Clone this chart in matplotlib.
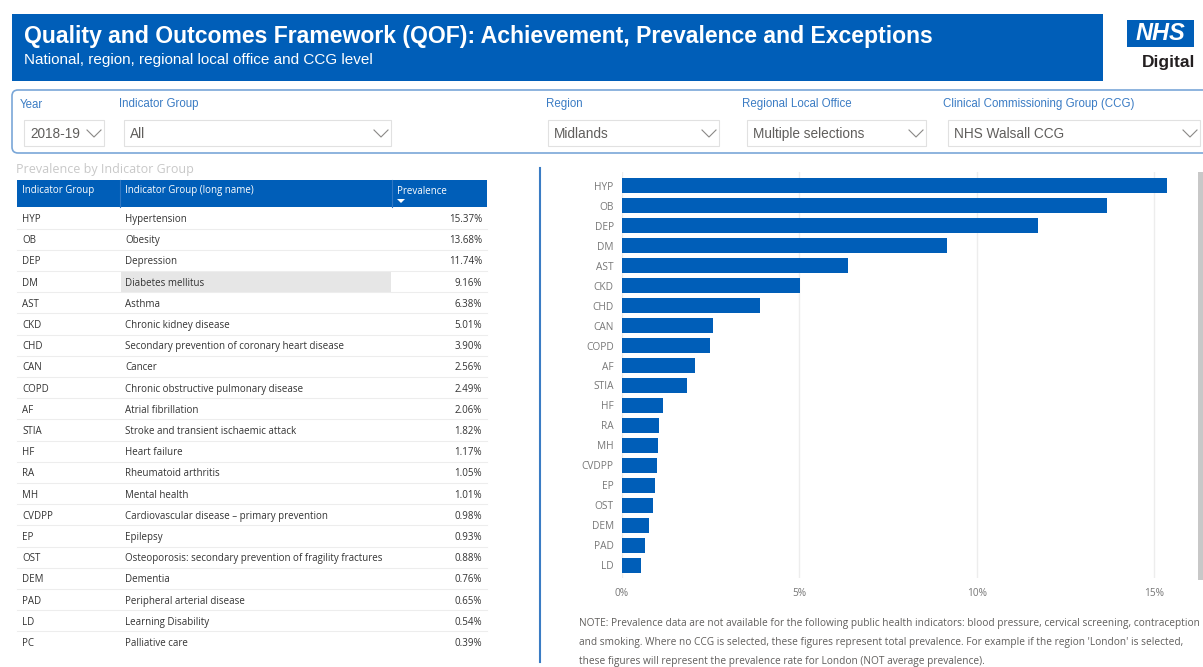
import matplotlib
matplotlib.use("Agg")
import matplotlib.pyplot as plt
from matplotlib.patches import Rectangle, FancyBboxPatch, Polygon
from matplotlib.ticker import FuncFormatter

# ---------------- data ----------------
codes = ["HYP", "OB", "DEP", "DM", "AST", "CKD", "CHD", "CAN", "COPD", "AF", "STIA",
         "HF", "RA", "MH", "CVDPP", "EP", "OST", "DEM", "PAD", "LD", "PC"]
long_names = ["Hypertension", "Obesity", "Depression", "Diabetes mellitus", "Asthma",
              "Chronic kidney disease", "Secondary prevention of coronary heart disease",
              "Cancer", "Chronic obstructive pulmonary disease", "Atrial fibrillation",
              "Stroke and transient ischaemic attack", "Heart failure", "Rheumatoid arthritis",
              "Mental health", "Cardiovascular disease \u2013 primary prevention", "Epilepsy",
              "Osteoporosis: secondary prevention of fragility fractures", "Dementia",
              "Peripheral arterial disease", "Learning Disability", "Palliative care"]
prevalence = [15.37, 13.68, 11.74, 9.16, 6.38, 5.01, 3.90, 2.56, 2.49, 2.06, 1.82,
              1.17, 1.05, 1.01, 0.98, 0.93, 0.88, 0.76, 0.65, 0.54, 0.39]
x_ticks = [0, 5, 10, 15]

filter_labels = ["Year", "Indicator Group", "Region", "Regional Local Office",
                 "Clinical Commissioning Group (CCG)"]
filter_values = ["2018-19", "All", "Midlands", "Multiple selections", "NHS Walsall CCG"]

title = "Quality and Outcomes Framework (QOF): Achievement, Prevalence and Exceptions"
subtitle = "National, region, regional local office and CCG level"
note_lines = [
    "NOTE: Prevalence data are not available for the following public health indicators: blood pressure, cervical screening, contraception",
    "and smoking. Where no CCG is selected, these figures represent total prevalence. For example if the region 'London' is selected,",
    "these figures will represent the prevalence rate for London (NOT average prevalence).",
]

# ---------------- style ----------------
W, H = 1203, 667
BLUE = "#005EB8"
LBLUE = "#3B7CC4"
GREY_TXT = "#605E5C"
DARK_TXT = "#333333"
FONT = "Open Sans"
plt.rcParams["font.family"] = [FONT, "DejaVu Sans"]
TFS = 7.0

fig = plt.figure(figsize=(W / 100, H / 100), dpi=100)
bg = fig.add_axes([0, 0, 1, 1])
bg.set_xlim(0, W)
bg.set_ylim(H, 0)
bg.axis("off")

# header
bg.add_patch(Rectangle((12, 14), 1091, 67, color=BLUE, lw=0))
bg.text(24, 37, title, color="white", fontsize=16.6, fontweight="bold",
        family="Liberation Sans", va="center", ha="left")
bg.text(24, 60, subtitle, color="white", fontsize=11, family="Liberation Sans",
        va="center", ha="left")

# NHS logo
bg.add_patch(Rectangle((1127, 20), 67, 27, color=BLUE, lw=0))
bg.text(1160.5, 34, "NHS", color="white", fontsize=17, fontweight="bold",
        style="italic", family="Liberation Sans", va="center", ha="center")
bg.text(1195, 62, "Digital", color="#231F20", fontsize=12.5, fontweight="bold",
        family="Liberation Sans", va="center", ha="right")

# filter bar
bg.add_patch(FancyBboxPatch((12, 90), 1210, 63, boxstyle="round,pad=0,rounding_size=6",
                            fc="white", ec="#7AA7D8", lw=1.2))
label_x = [20, 119, 546, 742, 943]
box_x = [(24, 104), (124, 391), (548, 719), (747, 926), (948, 1200)]
for lab, lx, (x0, x1), val in zip(filter_labels, label_x, box_x, filter_values):
    bg.text(lx, 107.5, lab, color=LBLUE, fontsize=8.3, va="baseline", ha="left",
            family="Liberation Sans")
    bg.add_patch(Rectangle((x0, 120), x1 - x0, 26, fc="white", ec="#E1E1E1", lw=0.8))
    bg.text(x0 + 6, 138, val, color=GREY_TXT, fontsize=9.8, va="baseline", ha="left",
            family="Liberation Sans")
    cx = x1 - 10
    bg.plot([cx - 7, cx, cx + 7], [130, 137, 130], color="#8A8886", lw=0.8)

# ---------------- table ----------------
bg.text(16, 169, "Prevalence by Indicator Group", color="#C8C8C8", fontsize=9,
        va="center", ha="left")
bg.add_patch(Rectangle((17, 180), 470, 27, color=BLUE, lw=0))
for sx in (120, 392):
    bg.plot([sx, sx], [180, 207], color="#2F77C4", lw=0.8)
bg.text(22, 191, "Indicator Group", color="white", fontsize=TFS, va="center")
bg.text(125, 191, "Indicator Group (long name)", color="white", fontsize=TFS, va="center")
bg.text(397, 191, "Prevalence", color="white", fontsize=TFS, va="center")
bg.add_patch(Polygon([[397, 199], [405, 199], [401, 203]], closed=True, color="white", lw=0))

row0, dy = 218, 21.2
for i, (c, ln, v) in enumerate(zip(codes, long_names, prevalence)):
    y = row0 + i * dy + 1.5
    if c == "DM":
        bg.add_patch(Rectangle((121, y - 1.5 - dy / 2 + 0.5), 270, dy - 1, color="#E6E6E6", lw=0))
    bg.text(22, y, c, color=DARK_TXT, fontsize=TFS, va="center")
    bg.text(125, y, ln, color=DARK_TXT, fontsize=TFS, va="center")
    bg.text(482, y, f"{v:.2f}%", color=DARK_TXT, fontsize=TFS, va="center", ha="right")
    if i < len(codes) - 1:
        yl = row0 + i * dy + dy / 2
        bg.plot([17, 487], [yl, yl], color="#EDEDED", lw=0.8)

# separator line
bg.plot([540, 540], [168, 662], color=LBLUE, lw=1.5)

# scrollbar
bg.add_patch(Rectangle((1198, 172), 5, 408, color="#C8C8C8", lw=0))

# note
for k, line in enumerate(note_lines):
    bg.text(579, 623.5 + k * 19, line, color=GREY_TXT, fontsize=7.3, va="center", ha="left")

# ---------------- bar chart ----------------
L, R, T, B = 622, 1185, 172, 578
ax = fig.add_axes([L / W, 1 - B / H, (R - L) / W, (B - T) / H])
ypos = list(range(len(codes)))
ax.barh(ypos, prevalence, height=0.75, color=BLUE, zorder=3)
ax.set_yticks(ypos)
ax.set_yticklabels(codes)
ax.set_xticks(x_ticks)
ax.xaxis.set_major_formatter(FuncFormatter(lambda v, p: f"{v:.0f}%"))
ax.set_xlim(0, (R - L) / ((1154 - 622) / 15))
ax.set_ylim(19.65, -0.70)
ax.grid(axis="x", color="#EDEDED", lw=1, zorder=0)
for s in ax.spines.values():
    s.set_visible(False)
ax.tick_params(axis="both", length=0, colors="#777777", labelsize=7.3)
ax.tick_params(axis="x", pad=7)
ax.tick_params(axis="y", pad=6)
ax.patch.set_alpha(0)

fig.savefig("out.png", dpi=100)
